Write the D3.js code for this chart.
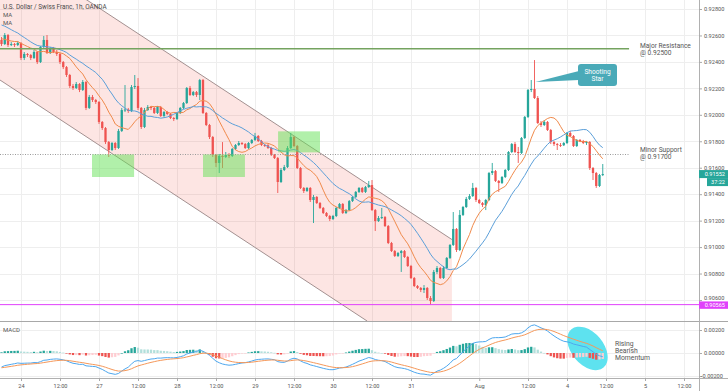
<!DOCTYPE html>
<html><head><meta charset="utf-8">
<script src="https://cdn.jsdelivr.net/npm/d3@7"></script>
<style>html,body{margin:0;padding:0;background:#fff;overflow:hidden}svg{display:block;font-family:Roboto,"Liberation Sans",Arial,sans-serif}</style>
</head><body><svg id="c" width="728" height="391"></svg>
<script>
// ---------- DATA (USD/CHF 1h, OANDA) ----------
// closes of the 19 hours before the first visible bar (needed for the moving averages)
const priorCloses = [0.92777,0.92792,0.92808,0.92792,0.92777,0.92792,0.92777,0.92777,0.92770,0.92770,
  0.92641,0.92611,0.92581,0.92566,0.92550,0.92566,0.92581,0.92566,0.92550];
const firstOpen = 0.92566;
const closes = [
0.92535,0.92603,0.92528,0.92535,0.92528,0.92543,0.92430,0.92460,0.92452,0.92430,
0.92475,0.92399,0.92513,0.92566,0.92467,0.92505,0.92475,0.92460,0.92399,0.92361,
0.92301,0.92218,0.92203,0.92233,0.92188,0.92248,0.92052,0.92135,0.92112,0.92097,
0.91946,0.91900,0.91794,0.91734,0.91787,0.91749,0.91878,0.92036,0.92040,0.92029,
0.92210,0.92218,0.92052,0.91908,0.92036,0.92059,0.92052,0.92014,0.92059,0.91991,
0.92021,0.92006,0.91976,0.91968,0.92014,0.92052,0.92089,0.92203,0.92150,0.92172,
0.92150,0.92263,0.92014,0.91923,0.91832,0.91696,0.91636,0.91689,0.91681,0.91696,
0.91689,0.91742,0.91772,0.91787,0.91779,0.91749,0.91787,0.91810,0.91840,0.91802,
0.91772,0.91770,0.91749,0.91696,0.91673,0.91492,0.91583,0.91605,0.91749,0.91832,
0.91764,0.91598,0.91447,0.91424,0.91447,0.91356,0.91379,0.91333,0.91296,0.91258,
0.91235,0.91212,0.91235,0.91296,0.91326,0.91258,0.91280,0.91348,0.91379,0.91417,
0.91447,0.91417,0.91454,0.91469,0.91280,0.91197,0.91220,0.91227,0.91159,0.91031,
0.90970,0.90933,0.90955,0.90970,0.90925,0.90857,0.90766,0.90706,0.90691,0.90676,
0.90691,0.90615,0.90592,0.90812,0.90842,0.90766,0.90842,0.90918,0.91016,0.91137,
0.90978,0.91243,0.91303,0.91364,0.91386,0.91447,0.91356,0.91333,0.91318,0.91356,
0.91560,0.91575,0.91500,0.91485,0.91530,0.91583,0.91719,0.91779,0.91719,0.91711,
0.91825,0.91984,0.92188,0.92195,0.92127,0.91938,0.91923,0.91946,0.91885,0.91794,
0.91779,0.91772,0.91770,0.91787,0.91863,0.91840,0.91764,0.91810,0.91802,0.91787,
0.91794,0.91598,0.91560,0.91462,0.91545,0.91552];
const highs = [
0.92588,0.92618,0.92611,0.92550,0.92543,0.92558,0.92550,0.92475,0.92467,0.92460,
0.92490,0.92482,0.92520,0.92596,0.92603,0.92513,0.92513,0.92490,0.92467,0.92407,
0.92369,0.92309,0.92233,0.92248,0.92240,0.92263,0.92256,0.92150,0.92150,0.92120,
0.92104,0.91953,0.91908,0.91802,0.91794,0.91794,0.91893,0.92052,0.92225,0.92052,
0.92225,0.92301,0.92278,0.92059,0.92052,0.92074,0.92067,0.92059,0.92067,0.92067,
0.92029,0.92029,0.92014,0.91984,0.92021,0.92059,0.92097,0.92210,0.92218,0.92180,
0.92180,0.92271,0.92271,0.92021,0.91931,0.91840,0.91704,0.91704,0.91794,0.91719,
0.91711,0.91749,0.91779,0.91802,0.91794,0.91787,0.91794,0.91817,0.91863,0.91847,
0.91810,0.91779,0.91779,0.91757,0.91704,0.91681,0.91598,0.91621,0.91764,0.91863,
0.91840,0.91772,0.91605,0.91454,0.91454,0.91454,0.91394,0.91386,0.91341,0.91303,
0.91265,0.91243,0.91243,0.91303,0.91333,0.91333,0.91288,0.91356,0.91386,0.91424,
0.91454,0.91454,0.91462,0.91500,0.91507,0.91288,0.91235,0.91296,0.91235,0.91167,
0.91039,0.90978,0.90963,0.90978,0.90978,0.90933,0.90865,0.90774,0.90713,0.90698,
0.90713,0.90698,0.90630,0.90827,0.90857,0.90850,0.90857,0.90925,0.91023,0.91265,
0.91144,0.91280,0.91311,0.91379,0.91401,0.91485,0.91454,0.91364,0.91341,0.91364,
0.91568,0.91636,0.91583,0.91507,0.91537,0.91590,0.91726,0.91787,0.91794,0.91757,
0.91832,0.91991,0.92195,0.92263,0.92414,0.92142,0.91953,0.91961,0.91953,0.91893,
0.91802,0.91787,0.91787,0.91794,0.91870,0.91878,0.91847,0.91817,0.91817,0.91810,
0.91802,0.91802,0.91605,0.91568,0.91553,0.91628];
const lows = [
0.92520,0.92528,0.92513,0.92520,0.92513,0.92520,0.92414,0.92414,0.92437,0.92414,
0.92422,0.92384,0.92392,0.92505,0.92460,0.92460,0.92467,0.92445,0.92384,0.92346,
0.92286,0.92203,0.92188,0.92195,0.92172,0.92180,0.92036,0.92044,0.92097,0.92082,
0.91931,0.91885,0.91779,0.91681,0.91726,0.91734,0.91742,0.91870,0.92021,0.92014,
0.92021,0.92195,0.92036,0.91893,0.91900,0.92029,0.92036,0.92006,0.92006,0.91984,
0.91984,0.91999,0.91968,0.91953,0.91961,0.92006,0.92044,0.92082,0.92142,0.92142,
0.92135,0.92112,0.92006,0.91915,0.91817,0.91681,0.91605,0.91560,0.91598,0.91673,
0.91673,0.91681,0.91734,0.91764,0.91772,0.91742,0.91742,0.91779,0.91802,0.91794,
0.91764,0.91757,0.91742,0.91689,0.91666,0.91409,0.91485,0.91575,0.91598,0.91742,
0.91757,0.91590,0.91439,0.91409,0.91417,0.91341,0.91182,0.91326,0.91288,0.91250,
0.91227,0.91197,0.91205,0.91227,0.91288,0.91250,0.91250,0.91273,0.91341,0.91371,
0.91409,0.91409,0.91409,0.91447,0.91273,0.91122,0.91190,0.91212,0.91152,0.91023,
0.90963,0.90925,0.90925,0.90812,0.90918,0.90850,0.90759,0.90698,0.90683,0.90660,
0.90653,0.90600,0.90565,0.90585,0.90797,0.90759,0.90759,0.90834,0.90910,0.91008,
0.90963,0.90970,0.91235,0.91296,0.91356,0.91379,0.91341,0.91326,0.91303,0.91280,
0.91348,0.91545,0.91492,0.91417,0.91477,0.91522,0.91575,0.91711,0.91711,0.91636,
0.91704,0.91817,0.91976,0.92172,0.92120,0.91931,0.91908,0.91915,0.91878,0.91779,
0.91764,0.91734,0.91757,0.91764,0.91779,0.91832,0.91757,0.91757,0.91794,0.91779,
0.91772,0.91583,0.91507,0.91447,0.91454,0.91537];

const priceTicks = [0.928,0.926,0.924,0.922,0.920,0.918,0.916,0.914,0.912,0.910,0.908,0.906];
const macdTicks = [0.002,0,-0.002];
const timeTickBars = [6,18,30,42,54,66,78,90,102,114,126,147,162,174,186,198,210];
const timeTickLabels = ["24","12:00","27","12:00","28","12:00","29","12:00","30","12:00","31","Aug","12:00","4","12:00","5","12:00"];
const maPeriods = [10, 20];
const macdPeriods = [12, 26, 9];
const macdSeed = [0.92560, 0.92690, -0.00130];   // fast EMA, slow EMA, signal before first bar
const majorResistance = 0.92500, minorSupport = 0.91700, swingLow = 0.90565;
const lastPrice = 0.91552, countdown = "37:22";
// channel and zones in (bar, price) space
const channelUpper = [[-0.46,0.93299],[138.6,0.91057]];
const channelLower = [[-0.46,0.92263],[112.5,0.90441]];
const zones = [[27.85,40.8,0.91700,0.91530],[62,74.9,0.91700,0.91530],[85.1,98,0.91875,0.91716]];

// ---------- SCALES ----------
const svg = d3.select('#c');
const PR = 699, PB = 321, MT = 322, MB = 378;
const x = d3.scaleLinear().domain([0,200]).range([1.5,651.5]);
const y = d3.scaleLinear().domain([0.906,0.928]).range([300,9]);
const ym = d3.scaleLinear().domain([-0.002,0.002]).range([376,330]);
const UP = '#26a69a', DN = '#ef5350';

const defs = svg.append('defs');
defs.append('clipPath').attr('id','cp').append('rect').attr('x',0).attr('y',0).attr('width',PR).attr('height',PB);
defs.append('clipPath').attr('id','cm').append('rect').attr('x',0).attr('y',MT).attr('width',PR).attr('height',MB-MT);

// ---------- GRID ----------
const grid = svg.append('g').attr('stroke','#eeeeee').attr('stroke-width',1);
timeTickBars.forEach(b => { const gx = Math.round(x(b))+0.5; grid.append('line').attr('x1',gx).attr('x2',gx).attr('y1',0).attr('y2',MB); });
priceTicks.forEach(p => { const gy = Math.round(y(p))+0.5; grid.append('line').attr('x1',0).attr('x2',PR).attr('y1',gy).attr('y2',gy); });
macdTicks.forEach(p => { const gy = Math.round(ym(p))+0.5; grid.append('line').attr('x1',0).attr('x2',PR).attr('y1',gy).attr('y2',gy); });

// ---------- PRICE PANE ----------
const pp = svg.append('g').attr('clip-path','url(#cp)');
const chPoly = [channelUpper[0], channelUpper[1], [channelUpper[1][0], 0.90441], channelLower[1], channelLower[0]];
pp.append('path').attr('d', d3.line().x(d=>x(d[0])).y(d=>y(d[1]))(chPoly)+'Z')
  .attr('fill','rgba(244,80,70,0.15)');
[channelUpper, channelLower].forEach(l => pp.append('line')
  .attr('x1',x(l[0][0])).attr('y1',y(l[0][1])).attr('x2',x(l[1][0])).attr('y2',y(l[1][1]))
  .attr('stroke','#a39090').attr('stroke-width',1));

// candles
const cg = pp.append('g');
closes.forEach((c,i) => {
  const o = i===0 ? firstOpen : closes[i-1];
  const h = Math.max(highs[i],o,c), l = Math.min(lows[i],o,c);
  const col = c >= o ? UP : DN;
  const cx = x(i);
  cg.append('line').attr('x1',cx).attr('x2',cx).attr('y1',y(h)).attr('y2',y(l)).attr('stroke',col).attr('stroke-width',0.9);
  const top = Math.min(y(o),y(c)), hh = Math.max(1, Math.abs(y(o)-y(c)));
  cg.append('rect').attr('x',cx-1.15).attr('width',2.3).attr('y',top).attr('height',hh).attr('fill',col);
});

// moving averages
const all = priorCloses.concat(closes), off = priorCloses.length;
function sma(n){ return closes.map((c,i)=> d3.mean(all.slice(i+off-n+1, i+off+1))); }
const maColors = ['#f08a4b','#5b9fd9'];
maPeriods.forEach((n,k) => pp.append('path').attr('d', d3.line().x((d,i)=>x(i)).y(d=>y(d))(sma(n)))
  .attr('fill','none').attr('stroke',maColors[k]).attr('stroke-width',1));

// levels
pp.append('line').attr('x1',0).attr('x2',x(193.1)).attr('y1',y(majorResistance)).attr('y2',y(majorResistance))
  .attr('stroke','#74a35f').attr('stroke-width',1.4);
pp.append('line').attr('x1',0).attr('x2',x(193.1)).attr('y1',y(minorSupport)).attr('y2',y(minorSupport))
  .attr('stroke','#9a9a9a').attr('stroke-width',1).attr('stroke-dasharray','1,1.5');
pp.append('line').attr('x1',0).attr('x2',PR).attr('y1',y(swingLow)).attr('y2',y(swingLow))
  .attr('stroke','#e040fb').attr('stroke-width',1);

// zones
zones.forEach(z => pp.append('rect').attr('x',x(z[0])).attr('width',x(z[1])-x(z[0]))
  .attr('y',y(z[2])).attr('height',y(z[3])-y(z[2])).attr('fill','rgba(100,225,85,0.5)'));

// shooting star callout
const ptip = [x(164.3), y(0.92248)];
pp.append('path').attr('d',`M${ptip[0]},${ptip[1]} L579,71 L579,80 Z`).attr('fill','#4aaab8');
pp.append('rect').attr('x',578).attr('y',64).attr('width',39).attr('height',22).attr('rx',3).attr('fill','#4aaab8');
pp.append('text').attr('x',597.5).attr('y',73.5).attr('text-anchor','middle').attr('fill','#fff').attr('font-size',6.6).text('Shooting');
pp.append('text').attr('x',597.5).attr('y',81).attr('text-anchor','middle').attr('fill','#fff').attr('font-size',6.6).text('Star');

// level labels
const lbl = (t,xx,yy,fs) => svg.append('text').attr('x',xx).attr('y',yy).attr('fill','#555').attr('font-size',fs||6.6).text(t);
lbl('Major Resistance',640,47.5); lbl('@ 0.92500',640,54.5);
lbl('Minor Support',640,152); lbl('@ 0.91700',640,159);
svg.append('text').attr('x',3).attr('y',8.5).attr('fill','#4a4a4a').attr('font-size',6.4).text('U.S. Dollar / Swiss Franc, 1h, OANDA');
lbl('MA',3,17,6); lbl('MA',3,25,6);

// ---------- MACD PANE ----------
const mp = svg.append('g').attr('clip-path','url(#cm)');
const [fP,sP,gP] = macdPeriods; const af=2/(fP+1), as=2/(sP+1), ag=2/(gP+1);
let [ef,es,sg] = macdSeed; const macd=[], sig=[], hist=[];
closes.forEach(c => { ef+=af*(c-ef); es+=as*(c-es); const m=ef-es; sg+=ag*(m-sg); macd.push(m); sig.push(sg); hist.push(m-sg); });
const ec = [x(180.3), ym(0.00040)];
mp.append('ellipse').attr('cx',ec[0]).attr('cy',ec[1]).attr('rx',25).attr('ry',16)
  .attr('transform',`rotate(50,${ec[0]},${ec[1]})`).attr('fill','#5ee2ef');
hist.forEach((h,i) => {
  const p = i===0 ? h : hist[i-1];
  const col = h>=0 ? (h>=p ? '#26a69a' : '#b2dfdb') : (h<p ? '#ef5350' : '#ffcdd2');
  const y0 = ym(0), y1 = ym(h);
  mp.append('rect').attr('x',x(i)-1.15).attr('width',2.3).attr('y',Math.min(y0,y1)).attr('height',Math.max(0.6,Math.abs(y1-y0))).attr('fill',col);
});
mp.append('path').attr('d',d3.line().x((d,i)=>x(i)).y(d=>ym(d))(macd)).attr('fill','none').attr('stroke','#4ea7ee').attr('stroke-width',1);
mp.append('path').attr('d',d3.line().x((d,i)=>x(i)).y(d=>ym(d))(sig)).attr('fill','none').attr('stroke','#f5985a').attr('stroke-width',1);
lbl('MACD',3,332,6);
lbl('Rising',615,346,6.8); lbl('Bearish',615,353,6.8); lbl('Momentum',615,360,6.8);

// ---------- FRAME & AXES ----------
svg.append('rect').attr('x',PR).attr('y',0).attr('width',728-PR).attr('height',391).attr('fill','#fff');
svg.append('line').attr('x1',0).attr('x2',728).attr('y1',PB+0.5).attr('y2',PB+0.5).attr('stroke','#a8a8a8').attr('stroke-width',1.2);
svg.append('line').attr('x1',0).attr('x2',728).attr('y1',MB+0.5).attr('y2',MB+0.5).attr('stroke','#b0b0b0').attr('stroke-width',1);
svg.append('line').attr('x1',PR+0.5).attr('x2',PR+0.5).attr('y1',0).attr('y2',391).attr('stroke','#b0b0b0').attr('stroke-width',1);

const ya = svg.append('g').attr('transform',`translate(${PR},0)`)
  .call(d3.axisRight(y).tickValues(priceTicks).tickFormat(d3.format('.5f')).tickSize(3).tickPadding(2));
const ma = svg.append('g').attr('transform',`translate(${PR},0)`)
  .call(d3.axisRight(ym).tickValues(macdTicks).tickFormat(d => d<0 ? '-' + d3.format('.5f')(-d) : d3.format('.5f')(d)).tickSize(3).tickPadding(2));
const xa = svg.append('g').attr('transform',`translate(0,${MB})`)
  .call(d3.axisBottom(x).tickValues(timeTickBars).tickFormat((d,i)=>timeTickLabels[i]).tickSize(3).tickPadding(3));
[ya,ma,xa].forEach(a => { a.select('.domain').remove(); a.selectAll('line').attr('stroke','#aaa');
  a.selectAll('text').attr('fill','#555').attr('font-size',5.6).attr('font-family','Roboto,"Liberation Sans",Arial,sans-serif'); });
ma.selectAll('text').filter(d=>d<0).attr('dx',-3);
// the lowest price label sits just above the swing-low tag, as in the source
ya.selectAll('text').filter(d=>d===0.906).attr('dy','-0.05em');

// price tags
const tag = (txt, col, yy, h, x0) => {
  svg.append('rect').attr('x',x0||PR).attr('y',yy).attr('width',728-(x0||PR)).attr('height',h).attr('fill',col);
  svg.append('text').attr('x',725).attr('y',yy+h-1.8).attr('text-anchor','end').attr('fill','#fff').attr('font-size',5.6).text(txt);
};
const ly = y(lastPrice);
tag(d3.format('.5f')(lastPrice), UP, ly-4, 8);
tag(countdown, UP, ly+4, 8, 707);
tag(d3.format('.5f')(swingLow), '#e040fb', y(swingLow)-3.2, 7.4);
</script></body></html>
